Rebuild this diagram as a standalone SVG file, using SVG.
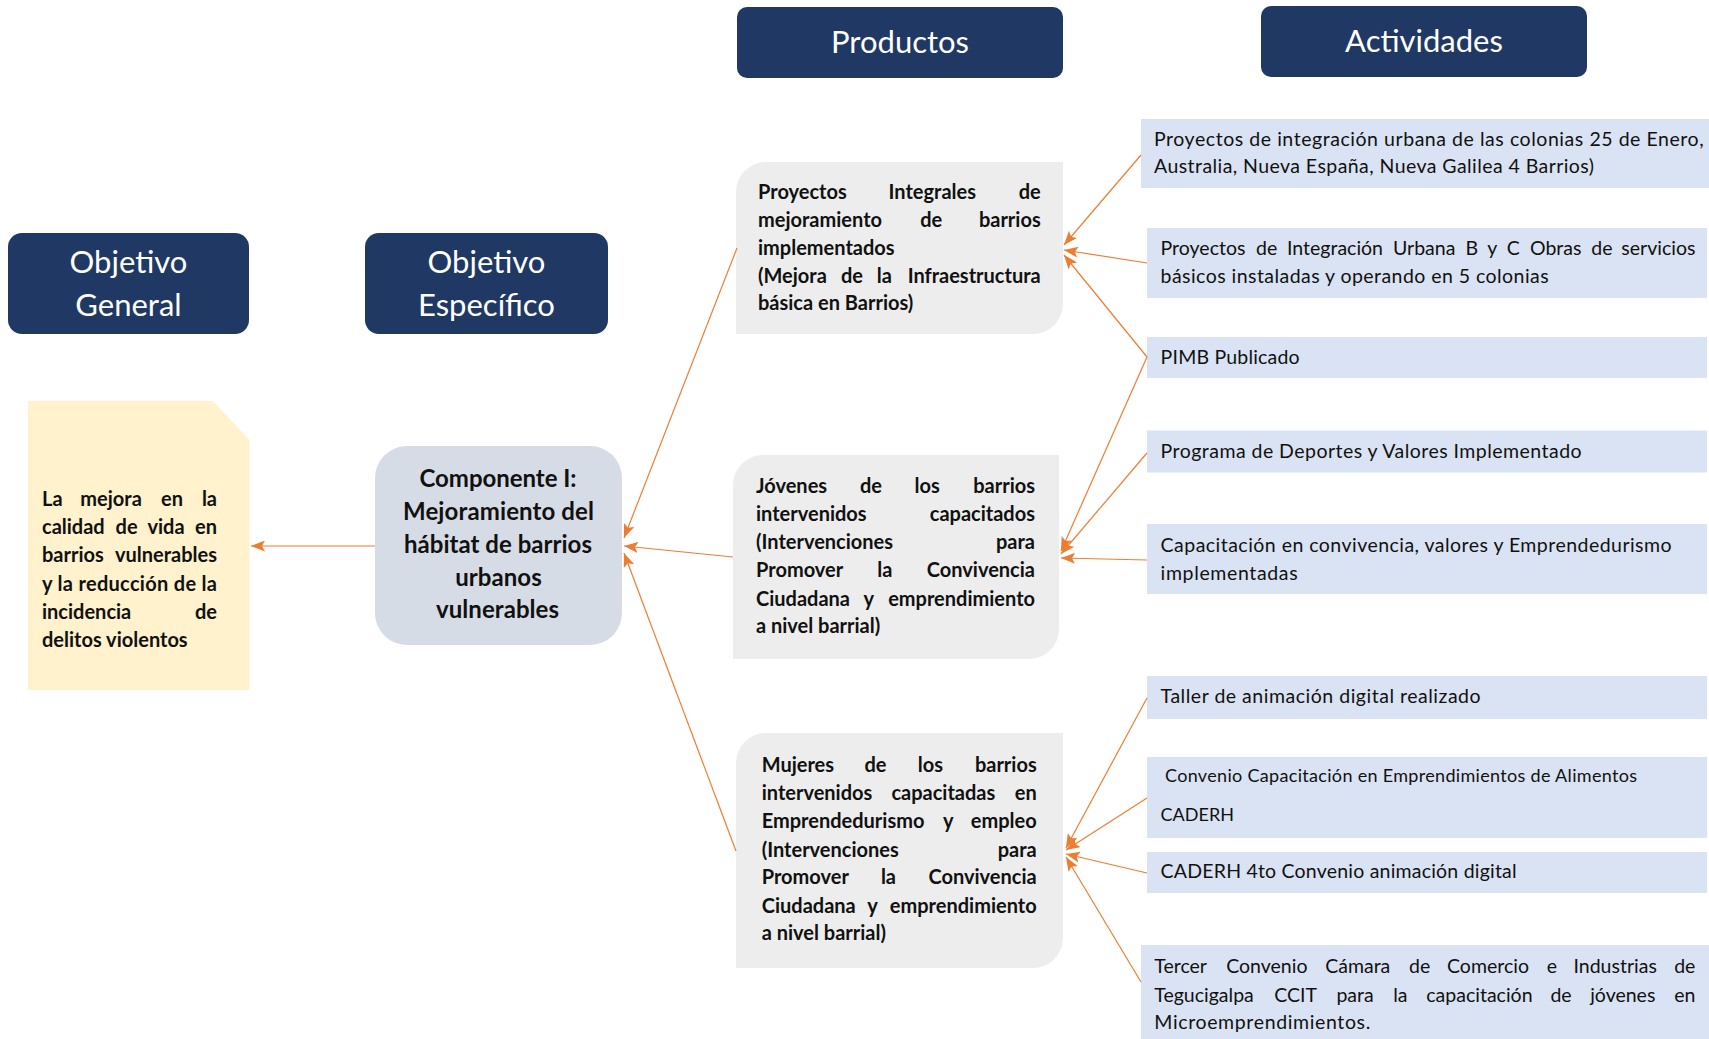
<svg xmlns="http://www.w3.org/2000/svg" width="1709" height="1039" viewBox="0 0 1709 1039">
<style>
.hdr{fill:#203864}
.ht{fill:#fff;font-family:Lato,"Liberation Sans",sans-serif;font-size:31px;text-anchor:middle}
.prod{fill:#EDEDED}
.act{fill:#DAE3F3}
.bt{fill:#111;font-family:Lato,"Liberation Sans",sans-serif;font-weight:bold;font-size:20px}
.rt{fill:#111;font-family:Lato,"Liberation Sans",sans-serif;font-size:19.5px}
.ct{fill:#111;font-family:Lato,"Liberation Sans",sans-serif;font-weight:bold;font-size:24px;text-anchor:middle}
.cn{fill:none;stroke:#ED7D31;stroke-width:1.2;marker-end:url(#ah)}
</style>
<defs>
<marker id="ah" viewBox="0 0 14 11" refX="14" refY="5.5" markerWidth="14" markerHeight="11" markerUnits="userSpaceOnUse" orient="auto">
<path d="M0,0 L14,5.5 L0,11 L3,5.5 Z" fill="#ED7D31"/>
</marker>
</defs>
<rect width="1709" height="1039" fill="#fff"/>

<g id="hdr-general"><rect class="hdr" x="8" y="233" width="241" height="101" rx="14"/>
<text class="ht" x="128.5" y="273">Objetivo</text><text class="ht" x="128.5" y="316">General</text></g>
<g id="hdr-especifico"><rect class="hdr" x="365" y="233" width="243" height="101" rx="14"/>
<text class="ht" x="486.5" y="273">Objetivo</text><text class="ht" x="486.5" y="316">Específico</text></g>
<g id="hdr-productos"><rect class="hdr" x="737" y="7" width="326" height="71" rx="10"/>
<text class="ht" x="900" y="53">Productos</text></g>
<g id="hdr-actividades"><rect class="hdr" x="1261" y="6" width="326" height="71" rx="10"/>
<text class="ht" x="1424" y="52">Actividades</text></g>

<g id="objetivo-general">
<path d="M28,401 H213 L249.5,440 V690 H28 Z" fill="#FFF2CC"/>
<text class="bt" y="506"><tspan x="42">La </tspan><tspan x="80.3">mejora </tspan><tspan x="161">en </tspan><tspan x="217" text-anchor="end">la</tspan></text>
<text class="bt" y="534"><tspan x="42">calidad </tspan><tspan x="115.6">de </tspan><tspan x="147.4">vida </tspan><tspan x="217" text-anchor="end">en</tspan></text>
<text class="bt" y="562"><tspan x="42">barrios </tspan><tspan x="217" text-anchor="end">vulnerables</tspan></text>
<text class="bt" x="42" y="591" textLength="175" lengthAdjust="spacing">y la reducción de la</text>
<text class="bt" y="619"><tspan x="42">incidencia </tspan><tspan x="217" text-anchor="end">de</tspan></text>
<text class="bt" x="42" y="647">delitos violentos</text>
</g>

<g id="componente">
<rect x="375" y="446" width="247" height="199" rx="32" fill="#D6DCE5"/>
<text class="ct" x="498" y="487" textLength="157" lengthAdjust="spacing">Componente I:</text>
<text class="ct" x="498.5" y="520" textLength="191" lengthAdjust="spacing">Mejoramiento del</text>
<text class="ct" x="498" y="553" textLength="188" lengthAdjust="spacing">hábitat de barrios</text>
<text class="ct" x="498.5" y="586" textLength="86.5" lengthAdjust="spacing">urbanos</text>
<text class="ct" x="497.5" y="618" textLength="123" lengthAdjust="spacing">vulnerables</text>
</g>

<g id="producto-1">
<path class="prod" d="M766,162 H1063 V304 A30,30 0 0 1 1033,334 H736 V192 A30,30 0 0 1 766,162 Z"/>
<text class="bt" y="198.5"><tspan x="758">Proyectos </tspan><tspan x="888.6">Integrales </tspan><tspan x="1040.7" text-anchor="end">de</tspan></text>
<text class="bt" y="226.7"><tspan x="758">mejoramiento </tspan><tspan x="920.2">de </tspan><tspan x="1040.7" text-anchor="end">barrios</tspan></text>
<text class="bt" x="758" y="255">implementados</text>
<text class="bt" y="282.7"><tspan x="758">(Mejora </tspan><tspan x="841">de </tspan><tspan x="876.8">la </tspan><tspan x="1040.7" text-anchor="end">Infraestructura</tspan></text>
<text class="bt" x="758" y="310">básica en Barrios)</text>
</g>

<g id="producto-2">
<path class="prod" d="M763,455 H1059 V629 A30,30 0 0 1 1029,659 H733 V485 A30,30 0 0 1 763,455 Z"/>
<text class="bt" y="492.7"><tspan x="756">Jóvenes </tspan><tspan x="860">de </tspan><tspan x="914.6">los </tspan><tspan x="1035" text-anchor="end">barrios</tspan></text>
<text class="bt" y="521"><tspan x="756">intervenidos </tspan><tspan x="1035" text-anchor="end">capacitados</tspan></text>
<text class="bt" y="549"><tspan x="756">(Intervenciones </tspan><tspan x="1035" text-anchor="end">para</tspan></text>
<text class="bt" y="577.3"><tspan x="756">Promover </tspan><tspan x="877.2">la </tspan><tspan x="1035" text-anchor="end">Convivencia</tspan></text>
<text class="bt" y="605.7"><tspan x="756">Ciudadana </tspan><tspan x="863.6">y </tspan><tspan x="1035" text-anchor="end">emprendimiento</tspan></text>
<text class="bt" x="756" y="633.3">a nivel barrial)</text>
</g>

<g id="producto-3">
<path class="prod" d="M766,733 H1063 V938 A30,30 0 0 1 1033,968 H736 V763 A30,30 0 0 1 766,733 Z"/>
<text class="bt" y="771.7"><tspan x="761.7">Mujeres </tspan><tspan x="864.4">de </tspan><tspan x="917.7">los </tspan><tspan x="1036.7" text-anchor="end">barrios</tspan></text>
<text class="bt" y="800"><tspan x="761.7">intervenidos </tspan><tspan x="891.4">capacitadas </tspan><tspan x="1036.7" text-anchor="end">en</tspan></text>
<text class="bt" y="828.3"><tspan x="761.7">Emprendedurismo </tspan><tspan x="942.9">y </tspan><tspan x="1036.7" text-anchor="end">empleo</tspan></text>
<text class="bt" y="856.7"><tspan x="761.7">(Intervenciones </tspan><tspan x="1036.7" text-anchor="end">para</tspan></text>
<text class="bt" y="884.3"><tspan x="761.7">Promover </tspan><tspan x="880.9">la </tspan><tspan x="1036.7" text-anchor="end">Convivencia</tspan></text>
<text class="bt" y="912.7"><tspan x="761.7">Ciudadana </tspan><tspan x="867.3">y </tspan><tspan x="1036.7" text-anchor="end">emprendimiento</tspan></text>
<text class="bt" x="761.7" y="940">a nivel barrial)</text>
</g>

<g id="actividad-1"><rect class="act" x="1141" y="119" width="568" height="69"/>
<text class="rt" x="1154" y="145.7" textLength="549.6" lengthAdjust="spacing">Proyectos de integración urbana de las colonias 25 de Enero,</text>
<text class="rt" x="1154" y="173" textLength="440" lengthAdjust="spacing">Australia, Nueva España, Nueva Galilea 4 Barrios)</text></g>
<g id="actividad-2"><rect class="act" x="1147" y="228" width="560" height="70"/>
<text class="rt" y="255"><tspan x="1160.6">Proyectos </tspan><tspan x="1256">de </tspan><tspan x="1287">Integración </tspan><tspan x="1393">Urbana </tspan><tspan x="1465.4">B </tspan><tspan x="1487.2">y </tspan><tspan x="1506.8">C </tspan><tspan x="1530">Obras </tspan><tspan x="1591.3">de </tspan><tspan x="1695.4" text-anchor="end">servicios</tspan></text>
<text class="rt" x="1160.6" y="282.7" textLength="388" lengthAdjust="spacing">básicos instaladas y operando en 5 colonias</text></g>
<g id="actividad-3"><rect class="act" x="1147" y="337" width="560" height="41"/>
<text class="rt" x="1160.6" y="363.5" textLength="139" lengthAdjust="spacing">PIMB Publicado</text></g>
<g id="actividad-4"><rect class="act" x="1147" y="430.5" width="560" height="42"/>
<text class="rt" x="1160.6" y="458.3" textLength="421" lengthAdjust="spacing">Programa de Deportes y Valores Implementado</text></g>
<g id="actividad-5"><rect class="act" x="1147" y="524" width="560" height="70"/>
<text class="rt" x="1160.6" y="551.7" textLength="511" lengthAdjust="spacing">Capacitación en convivencia, valores y Emprendedurismo</text>
<text class="rt" x="1160.6" y="580" textLength="137" lengthAdjust="spacing">implementadas</text></g>
<g id="actividad-6"><rect class="act" x="1147" y="676" width="560" height="43"/>
<text class="rt" x="1160.6" y="703.3" textLength="320" lengthAdjust="spacing">Taller de animación digital realizado</text></g>
<g id="actividad-7"><rect class="act" x="1147" y="757" width="560" height="81"/>
<text class="rt" x="1165" y="781.7" textLength="472" lengthAdjust="spacing" style="font-size:18px">Convenio Capacitación en Emprendimientos de Alimentos</text>
<text class="rt" x="1160.6" y="821" style="font-size:18px">CADERH</text></g>
<g id="actividad-8"><rect class="act" x="1147" y="852" width="560" height="41"/>
<text class="rt" x="1160.6" y="878.3" textLength="356" lengthAdjust="spacing">CADERH 4to Convenio animación digital</text></g>
<g id="actividad-9"><rect class="act" x="1141" y="945" width="568" height="94"/>
<text class="rt" y="973.3"><tspan x="1154.3">Tercer </tspan><tspan x="1226.2">Convenio </tspan><tspan x="1325.2">Cámara </tspan><tspan x="1409.1">de </tspan><tspan x="1447">Comercio </tspan><tspan x="1546.7">e </tspan><tspan x="1573.5">Industrias </tspan><tspan x="1695.4" text-anchor="end">de</tspan></text>
<text class="rt" y="1001.7"><tspan x="1154.3">Tegucigalpa </tspan><tspan x="1274.2">CCIT </tspan><tspan x="1336.4">para </tspan><tspan x="1393.2">la </tspan><tspan x="1426.3">capacitación </tspan><tspan x="1550.4">de </tspan><tspan x="1590.2">jóvenes </tspan><tspan x="1695.4" text-anchor="end">en</tspan></text>
<text class="rt" x="1154.3" y="1029.3" textLength="216" lengthAdjust="spacing">Microemprendimientos.</text></g>

<g id="connectors">
<line class="cn" x1="375" y1="546" x2="251" y2="546"/>
<line class="cn" x1="737" y1="248" x2="624" y2="538"/>
<line class="cn" x1="733" y1="557" x2="624" y2="546"/>
<line class="cn" x1="736" y1="851" x2="624" y2="553"/>
<line class="cn" x1="1141" y1="155" x2="1064" y2="245"/>
<line class="cn" x1="1147" y1="263" x2="1064" y2="250"/>
<line class="cn" x1="1147" y1="357" x2="1064" y2="255"/>
<line class="cn" x1="1147" y1="357" x2="1061" y2="551"/>
<line class="cn" x1="1147" y1="453" x2="1061" y2="554"/>
<line class="cn" x1="1147" y1="560" x2="1061" y2="558"/>
<line class="cn" x1="1147" y1="698" x2="1066" y2="848"/>
<line class="cn" x1="1147" y1="798" x2="1066" y2="850"/>
<line class="cn" x1="1147" y1="873" x2="1066" y2="854"/>
<line class="cn" x1="1141" y1="982" x2="1066" y2="857"/>
</g>
</svg>
